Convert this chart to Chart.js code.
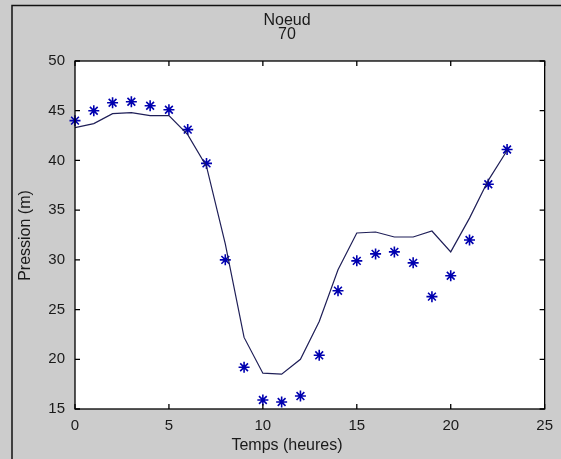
<!DOCTYPE html>
<html lang="fr">
<head>
<meta charset="UTF-8">
<title>Noeud 70</title>
<script src="https://cdn.jsdelivr.net/npm/chart.js@4.4.0/dist/chart.umd.min.js"></script>
<style>
  html, body { margin: 0; padding: 0; background: #cccccc; }
  canvas { display: block; }
</style>
</head>
<body>
<canvas id="chart" width="561" height="459"></canvas>
<script>
// heures de la journee
const heures = [0, 1, 2, 3, 4, 5, 6, 7, 8, 9, 10, 11, 12, 13, 14, 15, 16, 17, 18, 19, 20, 21, 22, 23];
// pression mesuree (etoiles)
const mesures = [44.0, 45.0, 45.8, 45.9, 45.5, 45.1, 43.1, 39.7, 30.0, 19.2, 15.9, 15.7,
                 16.3, 20.4, 26.9, 29.9, 30.6, 30.8, 29.7, 26.3, 28.4, 32.0, 37.6, 41.1];
// pression calculee (trait)
const calcul = [43.3, 43.7, 44.7, 44.8, 44.5, 44.5, 42.6, 39.4, 31.6, 22.2, 18.6, 18.5,
                20.0, 23.8, 29.0, 32.7, 32.8, 32.3, 32.3, 32.9, 30.8, 34.2, 38.0, 41.0];
const xTicks = [0, 5, 10, 15, 20, 25];
const yTicks = [15, 20, 25, 30, 35, 40, 45, 50];

const titre = ['Noeud', '70'];
const xTitre = 'Temps (heures)';
const yTitre = 'Pression (m)';

const police = '"Liberation Sans", Arial, sans-serif';

// fond gris de la figure, cadre noir et zone blanche des axes
const fondFigure = {
  id: 'fondFigure',
  beforeDraw(chart) {
    const c = chart.ctx, a = chart.chartArea;
    c.save();
    c.fillStyle = '#cccccc';
    c.fillRect(0, 0, chart.width, chart.height);
    c.strokeStyle = '#111';
    c.lineWidth = 1.5;
    c.beginPath();
    c.moveTo(12, chart.height);
    c.lineTo(12, 5.5);
    c.lineTo(chart.width, 5.5);
    c.stroke();
    c.fillStyle = '#ffffff';
    c.fillRect(a.left, a.top, a.right - a.left, a.bottom - a.top);
    c.restore();
  }
};

// boite des axes avec graduations vers l'interieur + textes
const boiteAxes = {
  id: 'boiteAxes',
  afterDraw(chart) {
    const c = chart.ctx, a = chart.chartArea;
    const sx = chart.scales.x, sy = chart.scales.y;
    const t = 5;
    c.save();
    c.strokeStyle = '#000';
    c.lineWidth = 1.3;
    c.strokeRect(a.left, a.top, a.right - a.left, a.bottom - a.top);
    c.beginPath();
    xTicks.forEach(v => {
      const px = sx.getPixelForValue(v);
      c.moveTo(px, a.bottom); c.lineTo(px, a.bottom - t);
      c.moveTo(px, a.top); c.lineTo(px, a.top + t);
    });
    yTicks.forEach(v => {
      const py = sy.getPixelForValue(v);
      c.moveTo(a.left, py); c.lineTo(a.left + t, py);
      c.moveTo(a.right, py); c.lineTo(a.right - t, py);
    });
    c.stroke();

    c.fillStyle = '#1a1a1a';
    c.font = '16px ' + police;
    c.textAlign = 'center';
    c.textBaseline = 'middle';
    c.fillText(titre[0], 287, 21);
    c.fillText(titre[1], 287, 35);
    c.fillText(xTitre, 287, 446);
    c.translate(25.5, 235.5);
    c.rotate(-Math.PI / 2);
    c.fillText(yTitre, 0, 0);
    c.restore();
  }
};

new Chart(document.getElementById('chart'), {
  type: 'line',
  data: {
    datasets: [
      {
        label: 'calcul',
        data: heures.map((h, i) => ({ x: h, y: calcul[i] })),
        borderColor: '#1f1f58',
        borderWidth: 1.2,
        pointRadius: 0,
        tension: 0,
        fill: false
      },
      {
        label: 'mesures',
        data: heures.map((h, i) => ({ x: h, y: mesures[i] })),
        showLine: false,
        clip: false,
        pointStyle: 'star',
        pointRadius: 5.5,
        borderColor: '#0000b0',
        backgroundColor: '#0000b0',
        pointBorderWidth: 1.6
      }
    ]
  },
  options: {
    responsive: false,
    animation: false,
    layout: { padding: { top: 61, right: 14, left: 0, bottom: 0 } },
    plugins: {
      legend: { display: false },
      tooltip: { enabled: false },
      title: { display: false }
    },
    scales: {
      x: {
        type: 'linear',
        min: 0,
        max: 25,
        afterBuildTicks: s => { s.ticks = xTicks.map(v => ({ value: v })); },
        afterFit: s => { s.height = 50; },
        grid: { display: false, drawTicks: false },
        border: { display: false },
        ticks: {
          padding: 8,
          color: '#1a1a1a',
          font: { family: police, size: 15 }
        }
      },
      y: {
        min: 15,
        max: 50,
        afterBuildTicks: s => { s.ticks = yTicks.map(v => ({ value: v })); },
        afterFit: s => { s.width = 75; },
        grid: { display: false, drawTicks: false },
        border: { display: false },
        ticks: {
          padding: 10,
          color: '#1a1a1a',
          font: { family: police, size: 15 }
        }
      }
    }
  },
  plugins: [fondFigure, boiteAxes]
});
</script>
</body>
</html>
